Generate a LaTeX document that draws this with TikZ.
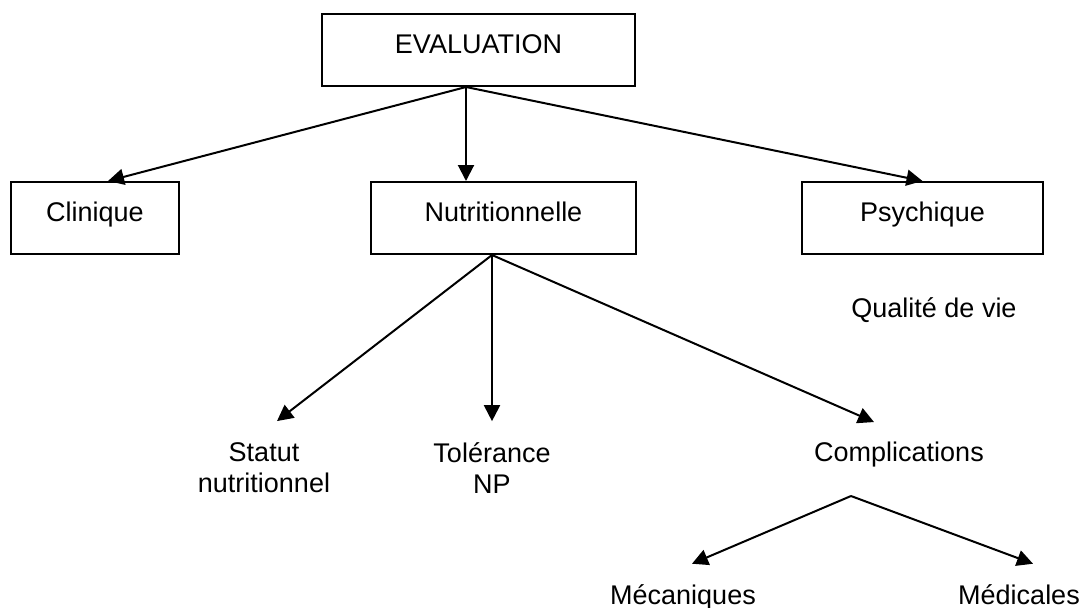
\documentclass[tikz,border=0pt]{standalone}
\usepackage{fontspec}
\setmainfont{Liberation Sans}
\usetikzlibrary{arrows.meta}

\begin{document}
\begin{tikzpicture}[x=0.5pt,y=-0.5pt,
	every node/.style={font=\fontsize{13.5pt}{15.5pt}\selectfont,inner sep=0pt},
	box/.style={draw=black,line width=1pt,minimum height=36pt,minimum width=#1,text height=9pt,text depth=6pt},
	lbl/.style={align=center},
	link/.style={-{Triangle[length=8pt,width=8pt]},line width=1pt}]
	\useasboundingbox (0,0) rectangle (1082,607);
	\node [box=156.5pt] (eval) at (478.5,50) {EVALUATION};
	\node [box=84pt] (clin) at (95,218) {Clinique};
	\node [box=132.5pt] (nutri) at (503.5,218) {Nutritionnelle};
	\node [box=120.5pt] (psy) at (922.5,218) {Psychique};
	\node [lbl,anchor=base] (qual) at (934,317) {Qualité de vie};
	\node [lbl] (statut) at (264,468) {Statut\\nutritionnel};
	\node [lbl] (toler) at (492,468) {Tolérance\\NP};
	\node [lbl,anchor=base] (compl) at (899,461) {Complications};
	\node [lbl,anchor=base] (meca) at (683,604) {Mécaniques};
	\node [lbl,anchor=base] (medi) at (1019,604) {Médicales};
	\coordinate (evalout) at ([xshift=-6.25pt]eval.south);
	\coordinate (nutriout) at ([xshift=-5.75pt]nutri.south);
	\coordinate (complout) at ([shift={(-24pt,-14.5pt)}]compl.south);
	\draw [link] (evalout) -- ([xshift=6.5pt]clin.north);
	\draw [link] (evalout) -- (evalout |- nutri.north);
	\draw [link] (evalout) -- (psy.north);
	\draw [link] (nutriout) -- ([shift={(6.5pt,10.75pt)}]statut.north);
	\draw [link] (nutriout) -- ([yshift=10.5pt]toler.north);
	\draw [link] (nutriout) -- ([shift={(-12.5pt,9.5pt)}]compl.north);
	\draw [link] (complout) -- ([shift={(4.5pt,10pt)}]meca.north);
	\draw [link] (complout) -- ([shift={(7pt,10pt)}]medi.north);
\end{tikzpicture}
\end{document}
